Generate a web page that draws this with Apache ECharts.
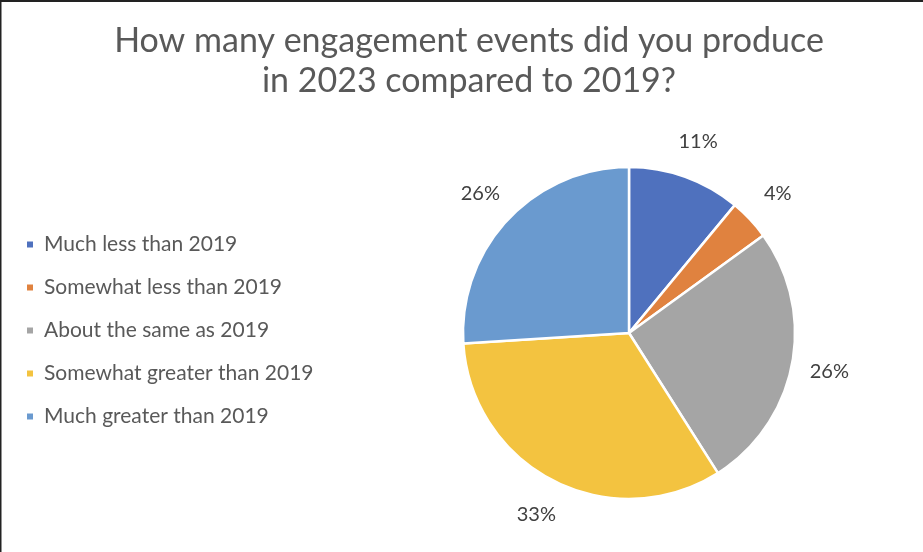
<!DOCTYPE html>
<html>
<head>
<meta charset="utf-8">
<script src="https://cdn.jsdelivr.net/npm/echarts@6/dist/echarts.min.js"></script>
<style>
  html, body { margin: 0; padding: 0; background: #fff; }
  #chart { width: 923px; height: 552px; }
</style>
</head>
<body>
<div id="chart"></div>
<script>
// Survey answers and their share of respondents (percent)
const categories = [
  'Much less than 2019',
  'Somewhat less than 2019',
  'About the same as 2019',
  'Somewhat greater than 2019',
  'Much greater than 2019'
];
const shares = [11, 4, 26, 33, 26];
const sliceColors = ['#4F71BE', '#E0823F', '#A5A5A5', '#F3C340', '#6A9ACF'];

const FONT = 'Lato, "Noto Sans", sans-serif';
const chart = echarts.init(document.getElementById('chart'), null, { renderer: 'canvas' });

const option = {
  backgroundColor: '#ffffff',
  animation: false,
  title: {
    text: 'How many engagement events did you produce\nin 2023 compared to 2019?',
    left: 469,
    top: 21,
    padding: 0,
    textAlign: 'center',
    textStyle: {
      fontFamily: FONT,
      fontSize: 34,
      fontWeight: 'normal',
      color: '#595959',
      lineHeight: 40
    }
  },
  legend: {
    orient: 'vertical',
    left: 20,
    top: 229,
    itemWidth: 8,
    itemHeight: 8,
    itemGap: 22,
    icon: 'rect',
    data: categories,
    textStyle: {
      fontFamily: FONT,
      fontSize: 21,
      color: '#595959',
      lineHeight: 21,
      padding: [0, 0, 0, 5]
    }
  },
  graphic: [
    { type: 'rect', shape: { x: 0, y: 0, width: 923, height: 2 }, style: { fill: '#222' }, silent: true },
    { type: 'rect', shape: { x: 0, y: 0, width: 1.5, height: 552 }, style: { fill: '#222' }, silent: true }
  ],
  series: [{
    type: 'pie',
    center: [629, 333],
    radius: [0, 166],
    startAngle: 90,
    clockwise: true,
    avoidLabelOverlap: false,
    itemStyle: { borderColor: '#ffffff', borderWidth: 2.5 },
    label: {
      show: true,
      position: 'outside',
      formatter: p => p.value + '%',
      fontFamily: FONT,
      fontSize: 20,
      color: '#404040',
      distanceToLabelLine: 0
    },
    labelLine: { show: false, length: 38, length2: 0 },
    labelLayout: () => ({ align: 'center', verticalAlign: 'middle' }),
    emphasis: { disabled: true },
    data: categories.map((name, i) => ({
      name,
      value: shares[i],
      itemStyle: { color: sliceColors[i] }
    }))
  }]
};

chart.setOption(option);
</script>
</body>
</html>
